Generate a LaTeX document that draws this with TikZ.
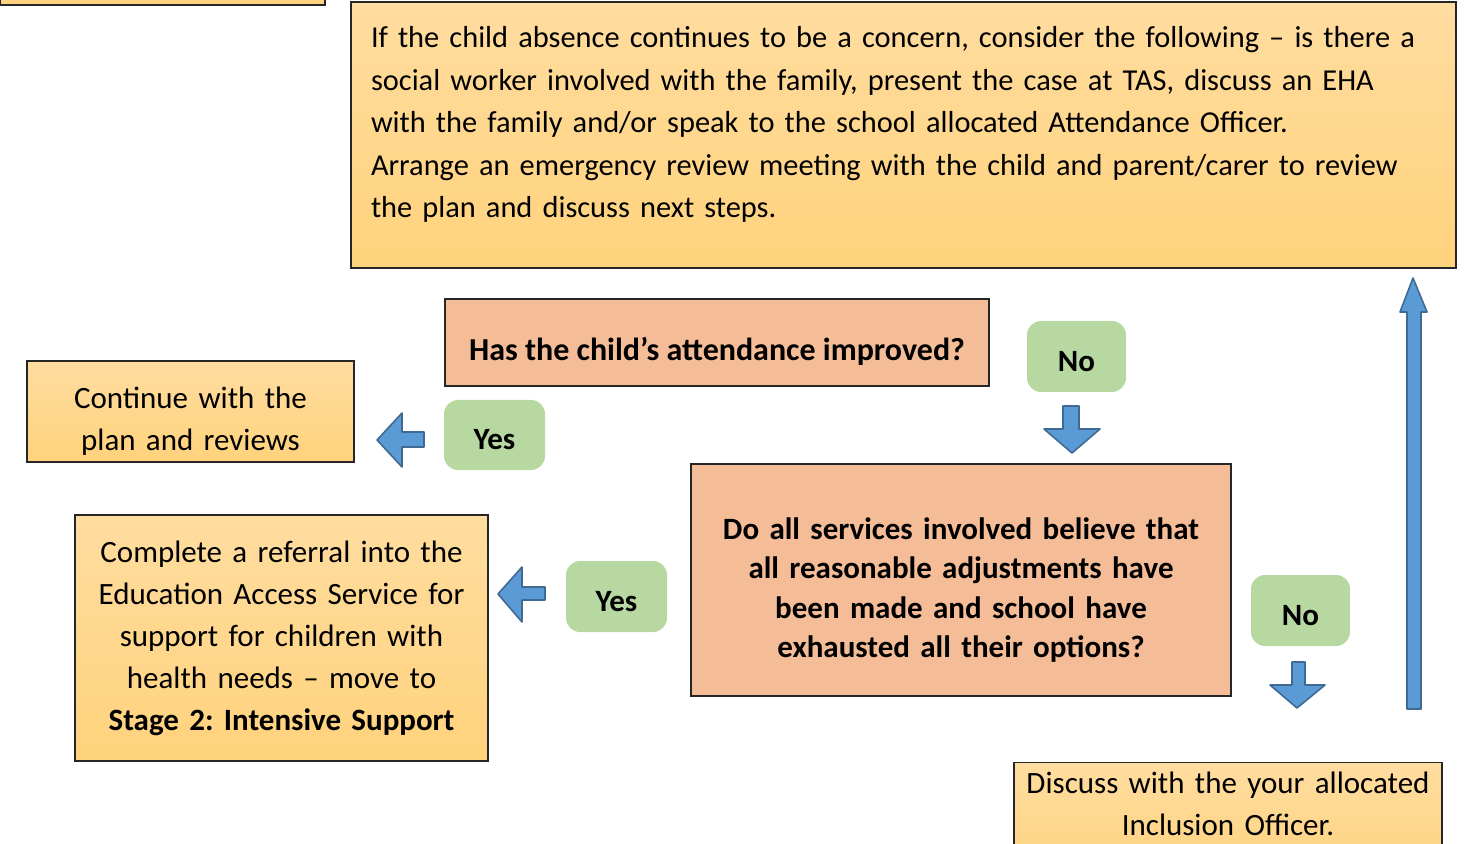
\documentclass[tikz,border=0pt]{standalone}
\usepackage{fontspec}
\setmainfont{Carlito}
\usetikzlibrary{positioning}
\definecolor{boxtop}{HTML}{FFDDA0}
\definecolor{boxbot}{HTML}{FFD27C}
\definecolor{salmon}{HTML}{F4BD97}
\definecolor{greenbox}{HTML}{B8D8A2}
\definecolor{arrowblue}{HTML}{5B9BD5}
\definecolor{arrowedge}{HTML}{3E6A93}
\frenchspacing

\begin{document}
\begin{tikzpicture}[x=0.5pt, y=-0.5pt,
  every node/.style={font=\fontsize{15.5}{21}\selectfont},
  infobox/.style={draw=black!85, line width=0.7pt, top color=boxtop, bottom color=boxbot, align=center, inner sep=0pt},
  askbox/.style={draw=black!85, line width=0.7pt, fill=salmon, align=center, inner sep=0pt, font=\fontsize{15.5}{19.75}\selectfont\bfseries},
  answer/.style={fill=greenbox, rounded corners=7pt, inner sep=0pt, font=\fontsize{15.5}{21}\selectfont\bfseries, text height=15pt, text depth=0pt},
  blockarrow/.style={fill=arrowblue, draw=arrowedge, line width=0.8pt, line join=round}]
  \useasboundingbox (0,0) rectangle (1472,844);

  \node[infobox, minimum width=162.5pt, minimum height=32.5pt] (prev) at (162.5,-27.5) {};
  \node[infobox, minimum width=552.5pt, minimum height=133pt, text width=532.5pt, inner xsep=10pt, align=left, text depth=98pt,
        font=\fontsize{15.2}{21.25}\selectfont] (concern) at (903.5,135)
    {If the child absence continues to be a concern, consider the following -- is there a\\
     social worker involved with the family, present the case at TAS, discuss an EHA\\
     with the family and/or speak to the school allocated Attendance Officer.\\
     Arrange an emergency review meeting with the child and parent/carer to review\\
     the plan and discuss next steps.};

  \node[askbox, minimum width=272pt, minimum height=43.5pt, text height=20.5pt, font=\fontsize{16}{20}\selectfont\bfseries] (improved) at (717,342.5) {Has the child’s attendance improved?};
  \node[answer, minimum width=49.5pt, minimum height=35.5pt] (no1) at (1076.5,356.5) {No};
  \node[infobox, minimum width=163.5pt, minimum height=50.5pt, text width=160pt] (continue) at (190.5,411.5)
    {\rule{0pt}{20.5pt}Continue with the\\ plan and reviews};
  \node[answer, minimum width=50.5pt, minimum height=35pt] (yes1) at (494.5,435) {Yes};

  \node[infobox, minimum width=206.5pt, minimum height=123pt, text width=204pt] (referral) at (281.5,638)
    {Complete a referral into the\\ Education Access Service for\\ support for children with\\
     health needs -- move to\\ \textbf{Stage 2: Intensive Support}};
  \node[answer, minimum width=50.5pt, minimum height=35.5pt] (yes2) at (616.5,596.5) {Yes};
  \node[askbox, minimum width=270pt, minimum height=116pt, text width=262pt] (services) at (961,580)
    {\rule{0pt}{21pt}Do all services involved believe that\\ all reasonable adjustments have\\
     been made and school have\\ exhausted all their options?};
  \node[answer, minimum width=49.5pt, minimum height=35.5pt] (no2) at (1300.5,610.5) {No};
  \node[infobox, anchor=north, minimum width=214pt, minimum height=60pt, text width=210pt, text depth=39.5pt] (discuss) at (1228,762)
    {Discuss with the your allocated\\ Inclusion Officer.};

  % block arrows
  \draw[blockarrow] (1063,406) -- (1079,406) -- (1079,429) -- (1100,429) -- (1072,453) -- (1044,429) -- (1063,429) -- cycle;
  \draw[blockarrow] (424,432) -- (424,447) -- (402,447) -- (402,467) -- (377,440) -- (402,413) -- (402,432) -- cycle;
  \draw[blockarrow] (545,587) -- (545,600) -- (522,600) -- (522,622) -- (498,594) -- (522,567) -- (522,587) -- cycle;
  \draw[blockarrow] (1292,662) -- (1305,662) -- (1305,685) -- (1325,685) -- (1297,708) -- (1270,685) -- (1292,685) -- cycle;
  \draw[blockarrow] (1407,709) -- (1421,709) -- (1421,312) -- (1427,312) -- (1413,278) -- (1400,312) -- (1407,312) -- cycle;
\end{tikzpicture}
\end{document}
